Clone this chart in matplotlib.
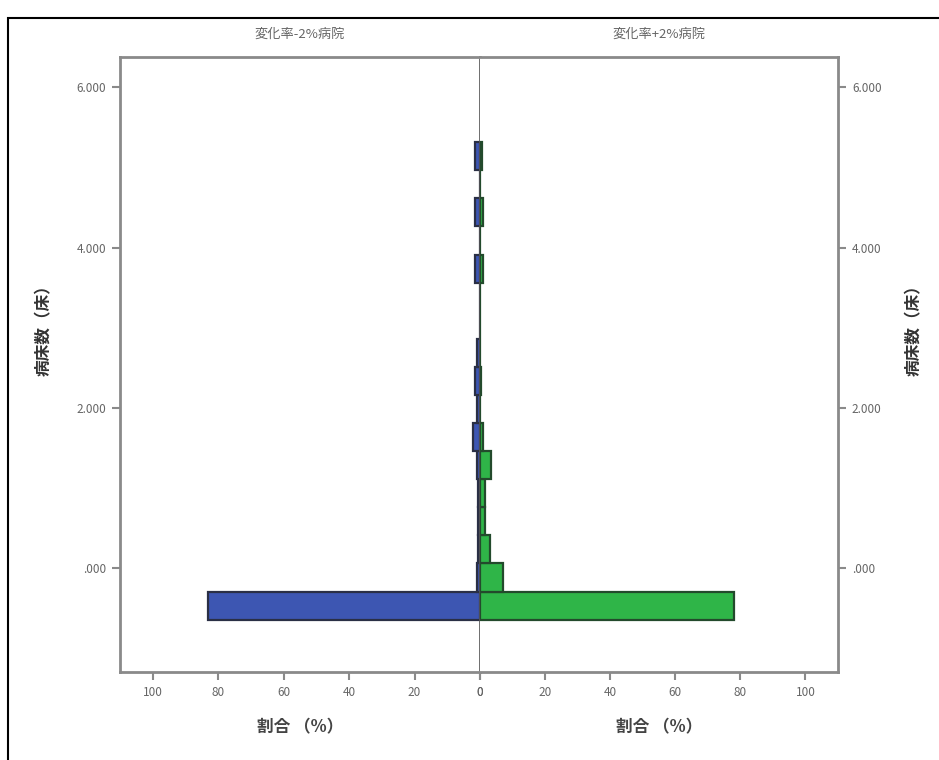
import numpy as np
import matplotlib
matplotlib.use("Agg")
import matplotlib.pyplot as plt
from matplotlib.patches import Rectangle

plt.rcParams['font.family'] = ['Noto Sans CJK JP', 'DejaVu Sans']

# bin centres on the value axis (bin width 0.35)
bin_width = 0.35
bin_centers = [-0.462, -0.112, 0.238, 0.588, 0.938, 1.288, 1.638, 1.988, 2.338,
               2.688, 3.038, 3.388, 3.738, 4.088, 4.438, 4.788, 5.138]
# percentage of hospitals in each bin
pct_minus = [83, 1.0, 0.5, 0.5, 0.5, 1.0, 2.0, 1.0, 1.5,
             1.0, 0, 0, 1.5, 0, 1.5, 0, 1.5]
pct_plus = [78, 7.0, 3.0, 1.5, 1.5, 3.5, 1.0, 0, 0.3,
            0, 0, 0, 1.0, 0, 1.0, 0, 0.5]

titles = ['変化率-2%病院', '変化率+2%病院']
xlabel = '割合 （%）'
ylabel = '病床数（床）'
yticks = [0, 2, 4, 6]
ytick_labels = ['.000', '2.000', '4.000', '6.000']
xticks = [0, 20, 40, 60, 80, 100]

frame_col = '#8a8a8a'
text_col = '#666666'

fig = plt.figure(figsize=(9.39, 7.6), dpi=100)
fig.patches.append(Rectangle((8 / 939, -0.05), 1.0, 1 - 18 / 760 + 0.05,
                             transform=fig.transFigure, fill=False,
                             edgecolor='black', linewidth=1.5))

axL = fig.add_axes([120 / 939, 1 - 672 / 760, 360 / 939, 615 / 760])
axR = fig.add_axes([480 / 939, 1 - 672 / 760, 358 / 939, 615 / 760])

axL.barh(bin_centers, pct_minus, height=bin_width, color='#3d56b2',
         edgecolor='#2a2f45', linewidth=1.6)
axR.barh(bin_centers, pct_plus, height=bin_width, color='#2fb548',
         edgecolor='#234a2c', linewidth=1.6)

for ax, title in zip([axL, axR], titles):
    ax.set_xlim(0, 110)
    ax.set_ylim(-1.29, 6.375)
    ax.set_xticks(xticks)
    ax.set_xticklabels([str(t) for t in xticks], fontsize=8.5, color=text_col)
    ax.set_yticks(yticks)
    ax.set_yticklabels(ytick_labels, fontsize=8.5, color=text_col)
    ax.tick_params(axis='both', direction='out', length=6, width=1.5,
                   color=frame_col, pad=4)
    for s in ax.spines.values():
        s.set_color(frame_col)
        s.set_linewidth(2)
    ax.set_xlabel(xlabel, fontsize=12, color='#444444', labelpad=14,
                  fontweight='bold')
    ax.set_title(title, fontsize=9.5, color=text_col, pad=14)

axL.invert_xaxis()
axL.spines['right'].set_color('#555555')
axL.spines['right'].set_linewidth(1.2)
axL.set_ylabel(ylabel, fontsize=12, color='#333333', fontweight='bold')
axL.yaxis.set_label_coords(-0.187, 0.563)
axR.spines['left'].set_visible(False)
axR.yaxis.tick_right()
axR.yaxis.set_label_position('right')
axR.set_ylabel(ylabel, fontsize=12, color='#333333', fontweight='bold',
               rotation=90)
axR.yaxis.set_label_coords(1.188, 0.563)

fig.savefig('out.png', dpi=100)
